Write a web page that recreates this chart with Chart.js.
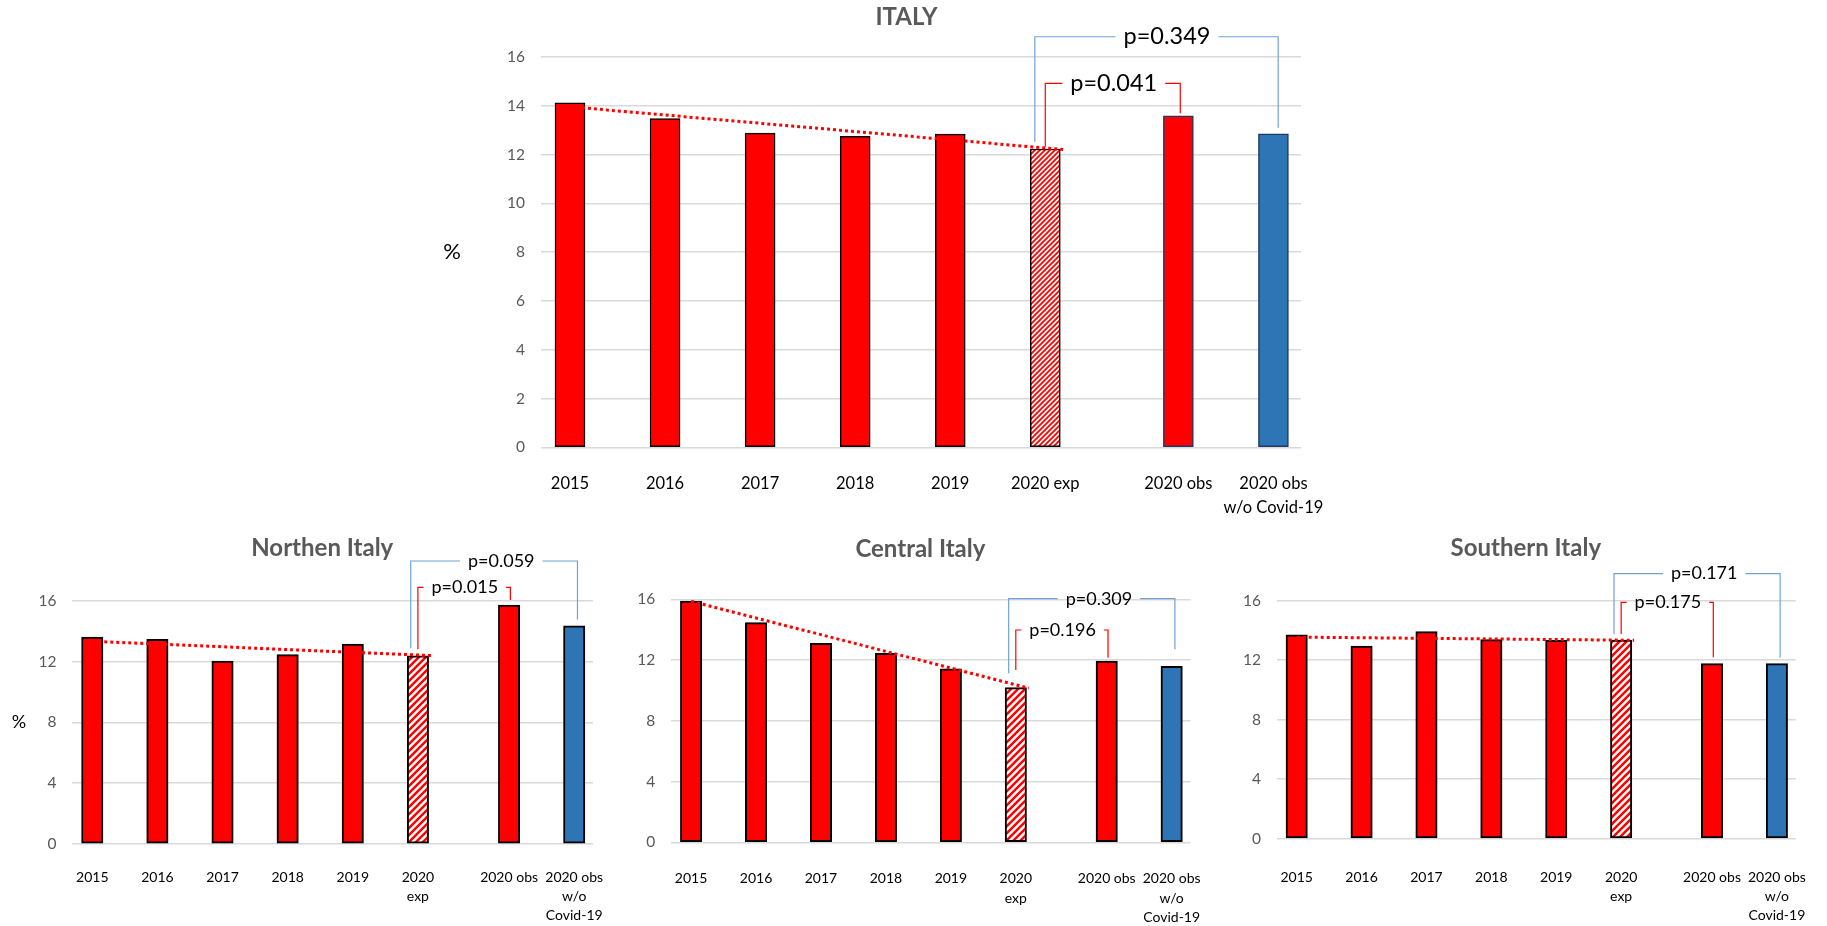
<!DOCTYPE html>
<html>
<head>
<meta charset="utf-8">
<script src="https://cdn.jsdelivr.net/npm/chart.js@4.4.0/dist/chart.umd.min.js"></script>
<style>
  body { margin: 0; background: #fff; }
  #wrap { position: relative; width: 1827px; height: 926px; overflow: hidden; }
  canvas { position: absolute; }
</style>
</head>
<body>
<div id="wrap">
  <canvas id="italy" width="900" height="520" style="left:430px;top:0px"></canvas>
  <canvas id="north" width="615" height="396" style="left:0px;top:530px"></canvas>
  <canvas id="central" width="615" height="396" style="left:610px;top:530px"></canvas>
  <canvas id="south" width="607" height="396" style="left:1220px;top:530px"></canvas>
</div>
<script>
// where each category sits on the x axis (observed bars come after a small gap)
const xSlots = [0, 1, 2, 3, 4, 5, 6.4, 7.4];
const trendSlots = [0, 5.2];

const labelsItaly = ['2015', '2016', '2017', '2018', '2019', '2020 exp', '2020 obs', ['2020 obs', 'w/o Covid-19']];
const labelsRegion = ['2015', '2016', '2017', '2018', '2019', ['2020', 'exp'], '2020 obs', ['2020 obs', 'w/o', 'Covid-19']];

const italyValues = [14.12, 13.48, 12.88, 12.75, 12.84, 12.23, 13.59, 12.85];
const northValues = [13.61, 13.46, 12.03, 12.45, 13.15, 12.38, 15.71, 14.35];
const centralValues = [15.88, 14.46, 13.10, 12.44, 11.43, 10.18, 11.94, 11.58];
const southValues = [13.71, 12.95, 13.92, 13.38, 13.34, 13.36, 11.77, 11.77];

// dotted trend line, start and end value
const italyTrend = [13.96, 12.20];
const northTrend = [13.33, 12.39];
const centralTrend = [15.87, 10.15];
const southTrend = [13.55, 13.34];

// [exp vs obs, exp vs obs w/o Covid-19]
const italyP = ['p=0.041', 'p=0.349'];
const northP = ['p=0.015', 'p=0.059'];
const centralP = ['p=0.196', 'p=0.309'];
const southP = ['p=0.175', 'p=0.171'];

// bracket heights in %: [top line, left end, right end]
const italyBrackets = [[14.92, 12.32, 13.69], [16.83, 12.53, 13.10]];
const northBrackets = [[16.88, 12.80, 16.04], [18.61, 12.87, 14.77]];
const centralBrackets = [[13.98, 11.34, 12.15], [16.04, 11.13, 12.71]];
const southBrackets = [[15.89, 13.76, 12.19], [17.82, 13.76, 12.17]];

Chart.defaults.font.family = 'Lato';

function hatch(size) {
  const c = document.createElement('canvas');
  c.width = size; c.height = size;
  const g = c.getContext('2d');
  g.fillStyle = '#fff';
  g.fillRect(0, 0, size, size);
  g.strokeStyle = '#ff0000';
  g.lineWidth = size * 0.36;
  g.beginPath();
  g.moveTo(0, size); g.lineTo(size, 0);
  g.moveTo(-size / 2, size / 2); g.lineTo(size / 2, -size / 2);
  g.moveTo(size / 2, size * 1.5); g.lineTo(size * 1.5, size / 2);
  g.stroke();
  return g.createPattern(c, 'repeat');
}

function drawBracket(ctx, x, y, legs, levels, text, color, size) {
  const [x1, xt, x2] = legs.map(v => x.getPixelForValue(v));
  const [yl, y1, y2] = levels.map(v => y.getPixelForValue(v));
  ctx.font = size + 'px Lato';
  const half = ctx.measureText(text).width / 2 + 8;
  ctx.strokeStyle = color;
  ctx.lineWidth = 1.2;
  ctx.beginPath();
  ctx.moveTo(x1, y1); ctx.lineTo(x1, yl); ctx.lineTo(xt - half, yl);
  ctx.moveTo(xt + half, yl); ctx.lineTo(x2, yl); ctx.lineTo(x2, y2);
  ctx.stroke();
  ctx.fillStyle = '#000';
  ctx.fillText(text, xt, yl);
}

const annotate = {
  id: 'annotate',
  afterDraw(chart, args, o) {
    const { ctx, chartArea: a, scales: { x, y } } = chart;
    ctx.save();
    ctx.textAlign = 'center';
    ctx.textBaseline = 'middle';

    ctx.font = `bold ${o.titleSize}px Lato`;
    ctx.fillStyle = '#595959';
    ctx.fillText(o.title, (a.left + a.right) / 2 + o.titleDx, o.titleY);

    if (o.unitSize) {
      ctx.font = o.unitSize + 'px Lato';
      ctx.fillStyle = '#000';
      ctx.fillText('%', a.left + o.unitDx, (a.top + a.bottom) / 2);
    }

    const e = xSlots[5], obs = xSlots[6], wo = xSlots[7];
    drawBracket(ctx, x, y, [e, (e + obs) / 2 + 0.02, obs + 0.02], o.brackets[0], o.pTexts[0], '#ff0000', o.pSize);
    drawBracket(ctx, x, y, [e - 0.11, obs - 0.12, wo + 0.05], o.brackets[1], o.pTexts[1], '#6fa3d8', o.pSize);
    ctx.restore();
  }
};

function makeChart(id, title, labels, values, trend, pTexts, brackets, lay) {
  const fills = values.map((v, i) => i === 5 ? hatch(lay.hatch) : (i === 7 ? '#2e75b6' : '#ff0000'));
  const borders = values.map((v, i) => (lay.navy && i > 5) ? '#1f3864' : '#000');

  new Chart(document.getElementById(id), {
    type: 'bar',
    data: {
      datasets: [
        {
          type: 'line',
          data: trendSlots.map((s, i) => ({ x: s, y: trend[i] })),
          borderColor: '#ff0000',
          borderWidth: 3,
          borderDash: [3, 3],
          pointRadius: 0,
          order: 0
        },
        {
          data: values.map((v, i) => ({ x: xSlots[i], y: v })),
          backgroundColor: fills,
          borderColor: borders,
          borderWidth: lay.border,
          borderSkipped: false,
          barThickness: lay.barW,
          order: 1
        }
      ]
    },
    options: {
      responsive: false,
      animation: false,
      layout: { padding: lay.pad },
      plugins: {
        legend: { display: false },
        tooltip: { enabled: false },
        annotate: {
          title: title, titleY: lay.titleY, titleDx: lay.titleDx, titleSize: lay.titleSize,
          unitSize: lay.unitSize, unitDx: lay.unitDx,
          pTexts: pTexts, brackets: brackets, pSize: lay.pSize
        }
      },
      scales: {
        x: {
          type: 'linear',
          min: -0.305,
          max: 7.69,
          offset: false,
          grid: { display: false, drawTicks: false },
          border: { display: false },
          afterBuildTicks(axis) { axis.ticks = xSlots.map(v => ({ value: v })); },
          afterFit(s) { s.height = lay.xAxisH; s.paddingLeft = 0; s.paddingRight = 0; },
          ticks: {
            autoSkip: false,
            maxRotation: 0,
            padding: lay.xPad,
            color: '#000',
            font: { size: lay.xFont, lineHeight: lay.xLine },
            callback: (v, i) => labels[i]
          }
        },
        y: {
          min: 0,
          max: 16,
          grid: { color: '#d9d9d9', lineWidth: 1.5, drawTicks: false },
          border: { display: false },
          afterFit(s) { s.width = 40; s.paddingTop = 0; s.paddingBottom = 0; },
          ticks: { stepSize: lay.step, padding: 16, color: '#595959', font: { size: lay.yFont } }
        }
      }
    },
    plugins: [annotate]
  });
}

const regionLayout = {
  barW: 21.4, border: 2, step: 4, yFont: 15.5, xFont: 14, xLine: 1.37,
  titleSize: 24, titleDx: -10.5, pSize: 18, hatch: 7
};

makeChart('italy', 'ITALY', labelsItaly, italyValues, italyTrend, italyP, italyBrackets, {
  pad: { left: 71, right: 29, top: 57, bottom: 0 }, xAxisH: 72.7, barW: 30, border: 1.5, step: 2,
  yFont: 15.5, xFont: 16.5, xLine: 1.45, xPad: 24, titleY: 17, titleDx: -14.5, titleSize: 24,
  unitSize: 22, unitDx: -89, pSize: 23.5, hatch: 5, navy: true
});

makeChart('north', 'Northen Italy', labelsRegion, northValues, northTrend, northP, northBrackets,
  Object.assign({}, regionLayout, {
    pad: { left: 32.4, right: 21.9, top: 70.7, bottom: 0 }, xAxisH: 82, xPad: 24, titleY: 18.3,
    unitSize: 18, unitDx: -53.4
  }));

makeChart('central', 'Central Italy', labelsRegion, centralValues, centralTrend, centralP, centralBrackets,
  Object.assign({}, regionLayout, {
    pad: { left: 21.3, right: 34.5, top: 69.3, bottom: 0 }, xAxisH: 83.7, xPad: 27, titleY: 19
  }));

makeChart('south', 'Southern Italy', labelsRegion, southValues, southTrend, southP, southBrackets,
  Object.assign({}, regionLayout, {
    pad: { left: 16.9, right: 31.3, top: 70.7, bottom: 0 }, xAxisH: 87.3, xPad: 29, titleY: 18
  }));
</script>
</body>
</html>
